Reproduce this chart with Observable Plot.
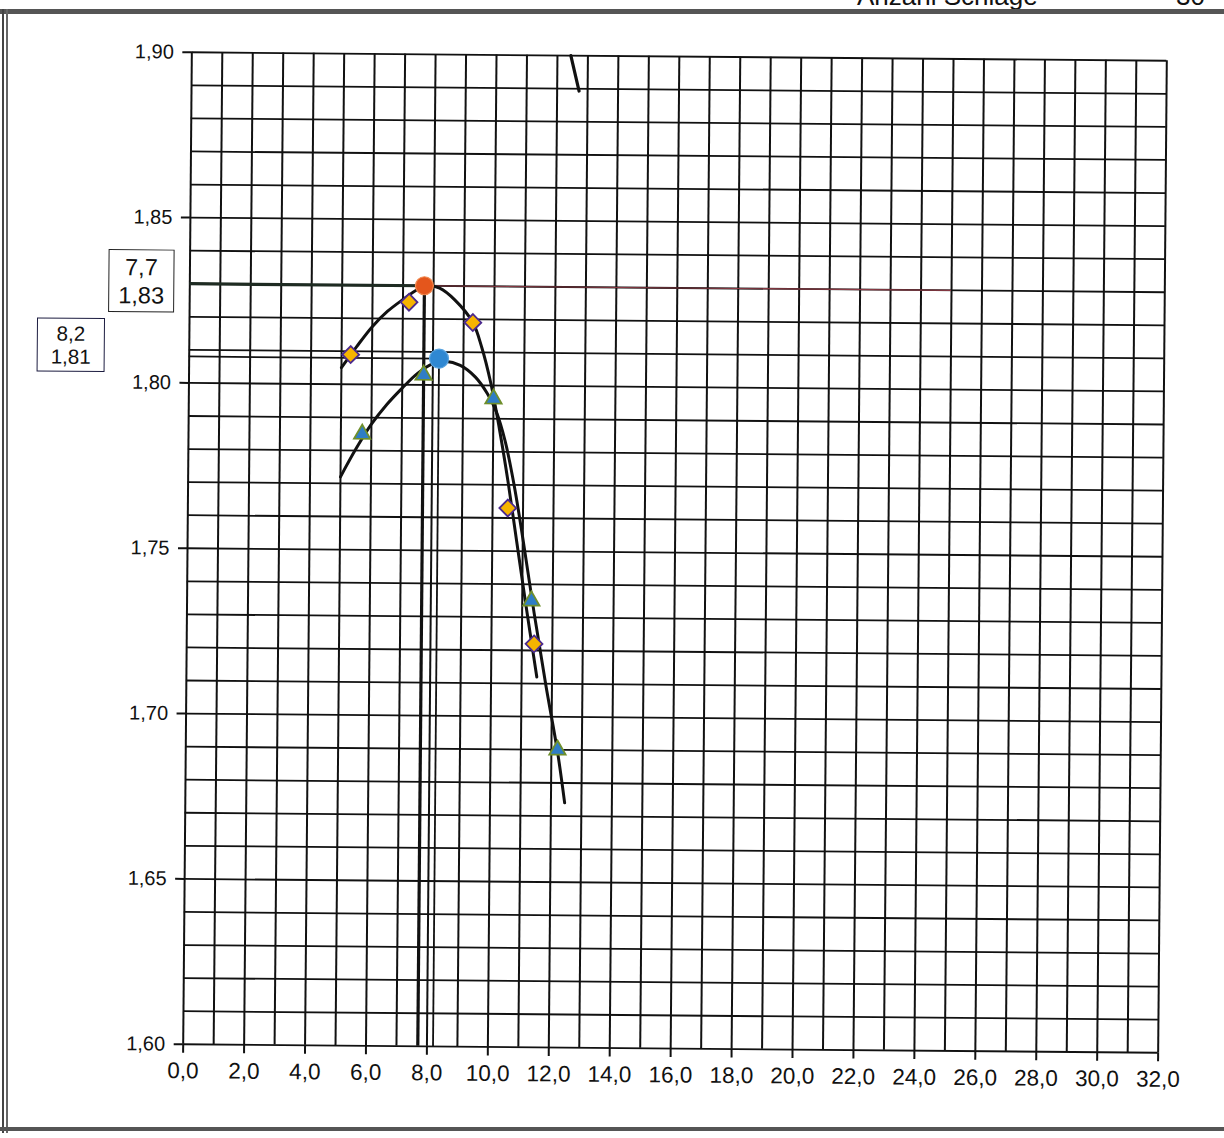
<!DOCTYPE html>
<html>
<head>
<meta charset="utf-8">
<script src="https://cdn.jsdelivr.net/npm/d3@7"></script>
<script src="https://cdn.jsdelivr.net/npm/@observablehq/plot@0.6"></script>
<style>
  html, body { margin: 0; padding: 0; background: #fff; overflow: hidden; }
  #sheet { position: relative; width: 1224px; height: 1138px; font-family: "Liberation Sans", Arial, sans-serif; color: #111; }
  #page { position: absolute; left: 0; top: 0; width: 1224px; height: 1138px;
          transform-origin: 674.5px 552px; transform: rotate(0.5deg); }
  #chart { position: absolute; left: 0; top: 0; }
  .box { position: absolute; background: #fff; text-align: center; color: #111; box-sizing: border-box; }
  .hdr { position: absolute; font-size: 26px; line-height: 26px; white-space: nowrap; color: #111; }
  .rule { position: absolute; background: #3a3a3a; }
</style>
</head>
<body>
<div id="sheet">
  <div class="hdr" id="hdrA" style="left:857px; top:-17px;"></div>
  <div class="hdr" id="hdrB" style="left:1176px; top:-17px;"></div>
  <div class="rule" style="left:0; top:9px; width:1224px; height:5px; background:#555;"></div>
  <div class="rule" style="left:2px; top:9px; width:2px; height:1124px; background:#444;"></div>
  <div class="rule" style="left:6px; top:9px; width:2px; height:1124px; background:#666;"></div>
  <div class="rule" style="left:0; top:1127px; width:1224px; height:4px; background:#555;"></div>
  <div id="page">
    <div id="chart"></div>
    <div class="box" id="box1" style="left:106px; top:254px; width:66px; height:63px; border:1.6px solid #222; font-size:23.5px; line-height:28px; padding-top:3px;"></div>
    <div class="box" id="box2" style="left:35px; top:323px; width:68px; height:54px; border:1.6px solid #1c1c40; font-size:20.5px; line-height:23px; padding-top:3px;"></div>
  </div>
</div>
<script>
// ---- header texts ----
const headerTitle = "Anzahl Schläge";
const headerNumber = "30";

// ---- diamond series (yellow diamonds) ----
const diamondX = [5.3, 7.2, 9.3, 10.5, 11.4];
const diamondY = [1.809, 1.825, 1.819, 1.763, 1.722];

// ---- triangle series (blue triangles) ----
const triangleX = [5.7, 7.7, 10.0, 11.3, 12.2];
const triangleY = [1.785, 1.803, 1.796, 1.735, 1.690];

// ---- fitted curve through the diamonds ----
const diamondCurveX = [5.0, 5.5, 6.0, 6.5, 7.0, 7.5, 7.8, 8.2, 8.7, 9.3, 9.6, 9.9, 10.2, 10.5, 10.8, 11.1, 11.5];
const diamondCurveY = [1.805, 1.8115, 1.8175, 1.8222, 1.8258, 1.829, 1.830, 1.8293, 1.8258, 1.819, 1.8115, 1.801, 1.787, 1.771, 1.753, 1.735, 1.712];

// ---- fitted curve through the triangles ----
const triangleCurveX = [5.0, 5.5, 6.0, 6.5, 7.0, 7.5, 8.0, 8.4, 8.9, 9.4, 9.8, 10.1, 10.4, 10.7, 11.0, 11.4, 11.8, 12.2, 12.45];
const triangleCurveY = [1.772, 1.7805, 1.788, 1.794, 1.799, 1.8035, 1.8065, 1.8072, 1.806, 1.8025, 1.7975, 1.792, 1.783, 1.770, 1.754, 1.731, 1.7095, 1.6895, 1.674];

// ---- steep line segment at the top ----
const topLineX = [12.44, 12.72];
const topLineY = [1.90, 1.8893];

// ---- optimum points ----
const optimumX = [7.7, 8.2];
const optimumY = [1.830, 1.808];

// ---- axes ----
const xTickValues = [0, 2, 4, 6, 8, 10, 12, 14, 16, 18, 20, 22, 24, 26, 28, 30, 32];
const yTickValues = [1.60, 1.65, 1.70, 1.75, 1.80, 1.85, 1.90];
const xGridValues = d3.range(0, 33, 1);
const yGridValues = d3.range(0, 31).map(i => +(1.60 + i * 0.01).toFixed(2));

const fmtX = d => d.toFixed(1).replace(".", ",");
const fmtY = d => d.toFixed(2).replace(".", ",");

const diamonds = diamondX.map((x, i) => ({x, y: diamondY[i]}));
const triangles = triangleX.map((x, i) => ({x, y: triangleY[i]}));
const diamondCurve = diamondCurveX.map((x, i) => ({x, y: diamondCurveY[i]}));
const triangleCurve = triangleCurveX.map((x, i) => ({x, y: triangleCurveY[i]}));
const topLine = topLineX.map((x, i) => ({x, y: topLineY[i]}));

const redLineEnd = 25;

const chart = Plot.plot({
  width: 1224,
  height: 1138,
  marginLeft: 187,
  marginRight: 62,
  marginTop: 56,
  marginBottom: 90,
  style: {fontFamily: "'Liberation Sans', Arial, sans-serif", background: "transparent", color: "#111", overflow: "visible"},
  x: {domain: [0, 32]},
  y: {domain: [1.60, 1.90]},
  marks: [
    Plot.ruleX(xGridValues, {stroke: "#111", strokeWidth: 2}),
    Plot.ruleY(yGridValues, {stroke: "#111", strokeWidth: 1.8}),
    Plot.axisX({ticks: xTickValues, tickFormat: fmtX, tickSize: 9, tickPadding: 9, fontSize: 22.5, label: null, stroke: "#111", strokeWidth: 2}),
    Plot.axisY({ticks: yTickValues, tickFormat: fmtY, tickSize: 9, tickPadding: 9, fontSize: 20, label: null, stroke: "#111", strokeWidth: 2}),
    // reference lines of the optima
    Plot.ruleY([optimumY[0]], {x1: 0, x2: optimumX[0], stroke: "#1e2b22", strokeWidth: 3.2}),
    Plot.ruleY([optimumY[0]], {x1: optimumX[0], x2: redLineEnd, stroke: "#8a3a44", strokeWidth: 1.2}),
    Plot.ruleY([optimumY[1]], {x1: 0, x2: optimumX[1], stroke: "#111", strokeWidth: 1.7}),
    Plot.ruleX([optimumX[0]], {y1: 1.60, y2: optimumY[0], stroke: "#111", strokeWidth: 3.2}),
    Plot.ruleX([optimumX[1]], {y1: 1.60, y2: optimumY[1], stroke: "#111", strokeWidth: 1.8}),
    // fitted curves
    Plot.line(diamondCurve, {x: "x", y: "y", curve: "catmull-rom", stroke: "#111", strokeWidth: 3}),
    Plot.line(triangleCurve, {x: "x", y: "y", curve: "catmull-rom", stroke: "#111", strokeWidth: 3}),
    Plot.line(topLine, {x: "x", y: "y", stroke: "#111", strokeWidth: 3.2}),
    // data points
    Plot.dot(diamonds, {x: "x", y: "y", symbol: "diamond2", r: 7.6, fill: "#f6b400", stroke: "#4b2a8e", strokeWidth: 1.8}),
    Plot.dot(triangles, {x: "x", y: "y", symbol: "triangle2", r: 7.8, fill: "#2f7dc6", stroke: "#6f8f2c", strokeWidth: 1.8}),
    // optima
    Plot.dot([{x: optimumX[0], y: optimumY[0]}], {x: "x", y: "y", r: 9, fill: "#e4561c", stroke: "#f08a50", strokeWidth: 1.2}),
    Plot.dot([{x: optimumX[1], y: optimumY[1]}], {x: "x", y: "y", r: 9.5, fill: "#2f88d2", stroke: "#5aa4e0", strokeWidth: 1.2})
  ]
});
document.getElementById("chart").appendChild(chart);

document.getElementById("box1").innerHTML = fmtX(optimumX[0]) + "<br>" + fmtY(optimumY[0]);
document.getElementById("box2").innerHTML = fmtX(optimumX[1]) + "<br>" + fmtY(optimumY[1]);
document.getElementById("hdrA").textContent = headerTitle;
document.getElementById("hdrB").textContent = headerNumber;
</script>
</body>
</html>
